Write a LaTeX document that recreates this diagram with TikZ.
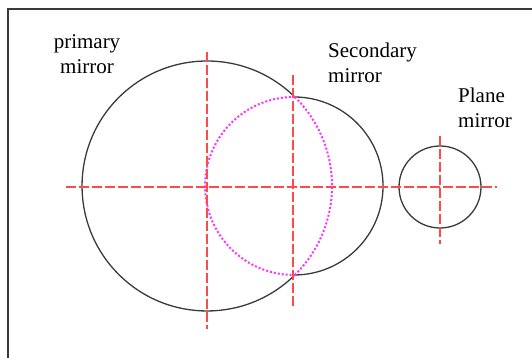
\documentclass[tikz,border=0pt]{standalone}
\usepackage{fontspec}
\setmainfont{Liberation Serif}
\usepackage{tikz}
\usepackage{xcolor}
\usetikzlibrary{positioning}
\definecolor{AxisRed}{HTML}{FF4A4A}
\definecolor{RingGray}{HTML}{3A3A3A}
\definecolor{FocusPink}{HTML}{FF33FF}

\begin{document}
\begin{tikzpicture}[
  x=1pt, y=1pt,
  every node/.style={font=\fontsize{21}{25}\selectfont},
  ring/.style={draw=RingGray, line width=1.3pt},
  axis/.style={draw=AxisRed, line width=1.8pt, dash pattern=on 10pt off 3pt},
  focus/.style={draw=FocusPink, line width=2pt, dash pattern=on 2pt off 2pt},
  lbl/.style={inner sep=0pt, align=left}
]
  \useasboundingbox (0,0) rectangle (532,358);

  % Frame
  \draw[RingGray, line width=1.2pt] (8,0) -- (8,349) -- (532,349);

  % Centres and crossing points
  \coordinate (pc) at (207,172);
  \coordinate (sc) at (294,172);
  \coordinate (mc) at (440,171);
  \coordinate (xtop) at (294.8,261);
  \coordinate (xbot) at (294.8,83);

  % Primary mirror (outer part)
  \draw[ring] (xtop) arc (45.4:314.6:125);

  % Secondary mirror (outer part)
  \draw[ring] (xtop) arc (89.5:-89.5:89);

  % Overlap, dotted
  \draw[focus] (xtop) arc (89.5:270.5:89);
  \draw[focus] (xbot) arc (-45.4:45.4:125);

  % Plane mirror
  \draw[ring] (mc) circle (41);

  % Axes
  \draw[axis] (66,171) -- (497,171);
  \draw[axis] ([yshift=134pt]pc) -- ([yshift=-143pt]pc);
  \draw[axis] (293,283) -- (293,51);
  \draw[axis] ([yshift=51pt]mc) -- ([yshift=-57pt]mc);

  % Labels
  \node[lbl, align=center] (primlbl) at (87,304) {primary\\mirror};
  \node[lbl, anchor=west] (seclbl) at (328,295.5) {Secondary\\mirror};
  \node[lbl, anchor=west] (planelbl) at (458,250.5) {Plane\\mirror};
\end{tikzpicture}
\end{document}
